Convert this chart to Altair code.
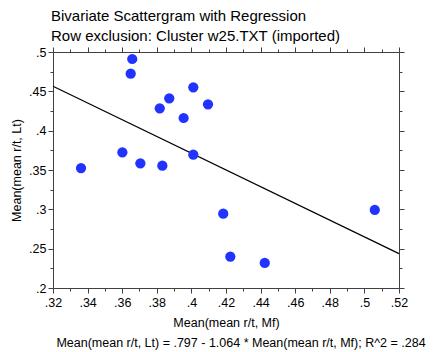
import altair as alt
import pandas as pd

# Data
mf = [0.3362, 0.3601, 0.3658, 0.3649, 0.3705, 0.3832, 0.3817, 0.3872,
      0.3955, 0.4011, 0.4011, 0.4096, 0.4184, 0.4225, 0.4424, 0.5060]
lt = [0.3525, 0.3725, 0.4911, 0.4724, 0.3585, 0.3555, 0.4284, 0.4411,
      0.4161, 0.4551, 0.3695, 0.4335, 0.2945, 0.2398, 0.2318, 0.2992]
intercept = 0.797
slope = -1.064
r2 = 0.284
x_domain = [0.32, 0.52]
y_domain = [0.2, 0.5]
x_ticks = [round(0.32 + 0.01 * i, 2) for i in range(21)]
y_ticks = [round(0.2 + 0.025 * i, 3) for i in range(13)]

FONT = "Liberation Sans"
AX = "#404040"


def f3(v):
    return f"{v:.3f}".lstrip("0")


formula = (f"Mean(mean r/t, Lt) = {f3(intercept)} - {f3(abs(slope))} * "
           f"Mean(mean r/t, Mf); R^2 = {f3(r2)}")

pts = pd.DataFrame({"mf": mf, "lt": lt})
line_df = pd.DataFrame({"mf": x_domain})
txt_df = pd.DataFrame({"t": [formula]})

xs = alt.Scale(domain=x_domain, nice=False, zero=False)
ys = alt.Scale(domain=y_domain, nice=False, zero=False)

x_tick_size = {"condition": {"test": "round(datum.value*100) % 2 === 0", "value": 5}, "value": 3}
y_tick_size = {"condition": {"test": "round(datum.value*1000) % 50 === 0", "value": 5}, "value": 3}

x_label = "round(datum.value*100) % 2 === 0 ? substring(format(datum.value, '.2~f'), 1) : ''"
y_label = "round(datum.value*1000) % 50 === 0 ? substring(format(datum.value, '.3~f'), 1) : ''"

points = alt.Chart(pts).mark_circle(size=105, color="#2233ff", opacity=1).encode(
    x=alt.X("mf:Q", scale=xs, axis=alt.Axis(
        orient="bottom", values=x_ticks, labelExpr=x_label, tickSize=x_tick_size,
        title="Mean(mean r/t, Mf)", titlePadding=8, labelPadding=3,
        labelFlush=False, labelOverlap=False)),
    y=alt.Y("lt:Q", scale=ys, axis=alt.Axis(
        orient="left", values=y_ticks, labelExpr=y_label, tickSize=y_tick_size,
        title="Mean(mean r/t, Lt)", titlePadding=5, labelPadding=2,
        labelFlush=False, labelOverlap=False)),
)

reg = alt.Chart(line_df).transform_calculate(
    lt=f"{intercept} + ({slope}) * datum.mf"
).mark_line(color="black", strokeWidth=1.2).encode(
    x=alt.X("mf:Q", scale=xs, axis=alt.Axis(
        orient="top", values=x_ticks, labels=False, tickSize=x_tick_size, title=None)),
    y=alt.Y("lt:Q", scale=ys, axis=alt.Axis(
        orient="right", values=y_ticks, labels=False, tickSize=y_tick_size, title=None)),
)

note = alt.Chart(txt_df).mark_text(
    font=FONT, fontSize=12.5, color="black", align="center", baseline="middle"
).encode(text="t:N", x=alt.value(188), y=alt.value(291))

chart = alt.layer(reg, points, note).resolve_axis(
    x="independent", y="independent"
).properties(
    width=346, height=236,
    autosize=alt.AutoSizeParams(type="none"),
    padding={"left": 53, "top": 52, "right": 36, "bottom": 64},
    title=alt.Title(
        ["Bivariate Scattergram with Regression",
         "Row exclusion: Cluster w25.TXT (imported)"],
        anchor="start", frame="group", fontSize=15, font=FONT,
        fontWeight="normal", color="black", lineHeight=20, offset=2, dx=-2),
).configure_view(stroke=None).configure_axis(
    domainColor=AX, tickColor=AX, domainWidth=1, tickWidth=1, grid=False,
    labelFont=FONT, labelFontSize=12.5, labelColor="black",
    titleFont=FONT, titleFontSize=12.5, titleFontWeight="normal", titleColor="black",
)

chart.save("out.html", embed_options={"renderer": "svg", "actions": False})
